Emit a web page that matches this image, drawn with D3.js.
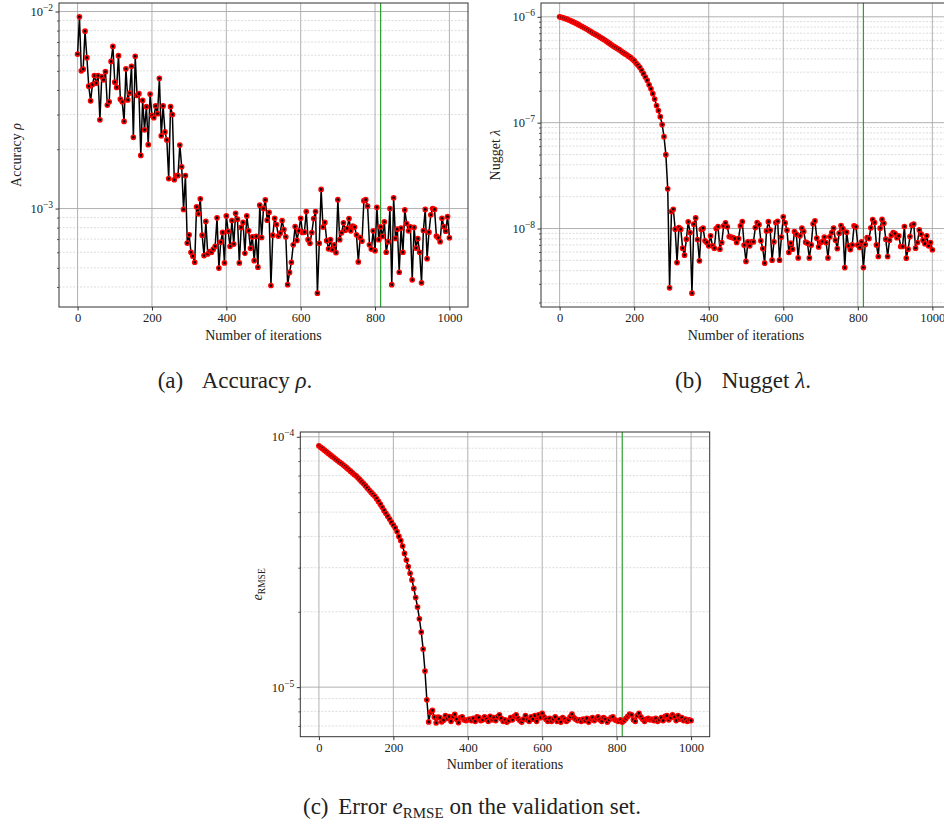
<!DOCTYPE html>
<html><head><meta charset="utf-8">
<script src="https://cdn.jsdelivr.net/npm/d3@7/dist/d3.min.js"></script>
<style>
body{margin:0;background:#fff}
svg{display:block}
text{font-family:"Liberation Serif","Times New Roman",serif;fill:#222}
</style>
</head><body>
<svg id="chart" width="944" height="828"></svg>
<script>
// ---------- data ----------
const iterations = d3.range(0, 1001, 5);
const xTicks = [0, 200, 400, 600, 800, 1000];
const selectedIteration = 815;

const accuracy = [
 6.08e-3, 9.4e-3, 5.0e-3, 5.1e-3, 7.95e-3, 5.83e-3, 4.18e-3, 3.52e-3, 4.26e-3, 4.73e-3,
 4.33e-3, 4.73e-3, 2.82e-3, 4.67e-3, 4.5e-3, 4.95e-3, 3.35e-3, 3.48e-3, 5.58e-3, 6.65e-3,
 4.38e-3, 4.12e-3, 5.97e-3, 3.59e-3, 3.48e-3, 2.77e-3, 5.12e-3, 3.56e-3, 3.86e-3, 5.27e-3,
 2.3e-3, 5.93e-3, 3.75e-3, 3.83e-3, 1.86e-3, 3.54e-3, 2.51e-3, 3.29e-3, 2.11e-3, 3.81e-3,
 2.97e-3, 2.89e-3, 3.32e-3, 3.03e-3, 4.58e-3, 2.34e-3, 3.32e-3, 2.45e-3, 2.23e-3, 1.42e-3,
 3.29e-3, 3.0e-3, 1.40e-3, 1.47e-3, 1.47e-3, 2.1e-3, 1.63e-3, 9.9e-4, 1.47e-3, 6.68e-4,
 7.36e-4, 6.0e-4, 5.73e-4, 5.34e-4, 1.02e-3, 9.4e-4, 1.12e-3, 7.33e-4, 5.77e-4, 8.6e-4,
 5.88e-4, 6.05e-4, 6.0e-4, 6.22e-4, 6.43e-4, 8.97e-4, 4.99e-4, 6.76e-4, 7.57e-4, 5.3e-4,
 9.18e-4, 7.67e-4, 6.43e-4, 8.7e-4, 6.6e-4, 9.46e-4, 8.83e-4, 5.3e-4, 8.02e-4, 8.5e-4,
 5.93e-4, 9.18e-4, 7.71e-4, 6.28e-4, 7.19e-4, 5.44e-4, 7.22e-4, 5.04e-4, 1.04e-3, 7.13e-4,
 1.0e-3, 1.106e-3, 8.73e-4, 9.58e-4, 4.07e-4, 7.33e-4, 8.93e-4, 8.3e-4, 7.25e-4, 7.5e-4,
 8.7e-4, 7.83e-4, 7.19e-4, 4.11e-4, 4.74e-4, 5.34e-4, 6.55e-4, 8.1e-4, 6.89e-4, 7.71e-4,
 8.93e-4, 7.56e-4, 7.59e-4, 9.66e-4, 6.95e-4, 6.66e-4, 7.56e-4, 8.9e-4, 9.66e-4, 3.72e-4,
 6.66e-4, 1.25e-3, 8.05e-4, 8.5e-4, 6.87e-4, 6.25e-4, 6.95e-4, 6.18e-4, 6.55e-4, 5.97e-4,
 1.11e-3, 6.95e-4, 7.53e-4, 8.46e-4, 7.77e-4, 7.93e-4, 8.9e-4, 7.71e-4, 8.14e-4, 8.05e-4,
 7.36e-4, 5.36e-4, 7.13e-4, 6.84e-4, 1.097e-3, 1.11e-3, 1.03e-3, 6.55e-4, 6.23e-4, 7.71e-4,
 6.11e-4, 1.015e-3, 6.95e-4, 8.08e-4, 7.22e-4, 8.57e-4, 6.0e-4, 6.79e-4, 1.0e-3, 4.11e-4,
 1.135e-3, 7.05e-4, 7.86e-4, 4.75e-4, 7.96e-4, 6.0e-4, 9.84e-4, 8.4e-4, 7.71e-4, 8.08e-4,
 4.35e-4, 8.02e-4, 6.3e-4, 7.03e-4, 6.0e-4, 4.2e-4, 7.74e-4, 9.9e-4, 5.57e-4, 7.59e-4,
 9.29e-4, 1.0e-3, 9.9e-4, 7.25e-4, 7.11e-4, 6.79e-4, 8.93e-4, 8.1e-4, 7.68e-4, 9.1e-4,
 7.11e-4
];

const nugget = [
 1.0e-6, 9.89e-7, 9.78e-7, 9.64e-7, 9.5e-7, 9.33e-7, 9.17e-7, 9.0e-7, 8.84e-7, 8.66e-7,
 8.47e-7, 8.28e-7, 8.1e-7, 7.93e-7, 7.76e-7, 7.57e-7, 7.38e-7, 7.2e-7, 7.01e-7, 6.86e-7,
 6.71e-7, 6.54e-7, 6.38e-7, 6.22e-7, 6.07e-7, 5.9e-7, 5.73e-7, 5.57e-7, 5.41e-7, 5.27e-7,
 5.14e-7, 5.01e-7, 4.89e-7, 4.75e-7, 4.61e-7, 4.49e-7, 4.38e-7, 4.25e-7, 4.13e-7, 3.99e-7,
 3.85e-7, 3.66e-7, 3.5e-7, 3.33e-7, 3.12e-7, 2.9e-7, 2.7e-7, 2.51e-7, 2.28e-7, 2.09e-7,
 1.88e-7, 1.67e-7, 1.45e-7, 1.3e-7, 1.14e-7, 9.6e-8, 7.38e-8, 4.99e-8, 2.37e-8, 2.75e-9,
 1.445e-8, 1.52e-8, 9.85e-9, 4.77e-9, 1.02e-8, 9.85e-9, 6.52e-9, 5.6e-9, 7.94e-9, 1.156e-8,
 9.17e-9, 2.45e-9, 1.1e-8, 1.26e-8, 7.87e-9, 4.95e-9, 9.8e-9, 1.007e-8, 7.65e-9, 7.38e-9,
 6.86e-9, 8.53e-9, 6.86e-9, 6.52e-9, 1.0e-8, 1.04e-8, 6.38e-9, 7.38e-9, 1.06e-8, 1.13e-8,
 1.037e-8, 8.4e-9, 8.3e-9, 8.2e-9, 8.04e-9, 7.38e-9, 8.04e-9, 1.06e-8, 1.16e-8, 6.97e-9,
 4.89e-9, 7.49e-9, 6.86e-9, 7.49e-9, 7.49e-9, 1.02e-8, 1.14e-8, 1.09e-8, 7.65e-9, 6.47e-9,
 4.71e-9, 9.5e-9, 1.16e-8, 9.64e-9, 5.02e-9, 7.49e-9, 1.14e-8, 1.17e-8, 5.02e-9, 8.3e-9,
 1.29e-8, 1.13e-8, 9.64e-9, 5.94e-9, 7.27e-9, 6.38e-9, 9.37e-9, 8.84e-9, 5.28e-9, 8.53e-9,
 1.007e-8, 9.37e-9, 7.43e-9, 7.27e-9, 5.28e-9, 7.0e-9, 1.11e-8, 1.18e-8, 8.1e-9, 6.7e-9,
 7.38e-9, 7.54e-9, 8.3e-9, 7.38e-9, 5.28e-9, 8.35e-9, 9.17e-9, 1.007e-8, 7.76e-9, 6.47e-9,
 9.04e-9, 1.067e-8, 1.0e-8, 4.28e-9, 9.24e-9, 6.86e-9, 6.33e-9, 7.0e-9, 1.06e-8, 1.037e-8,
 7.0e-9, 6.62e-9, 7.49e-9, 4.28e-9, 7.06e-9, 8.2e-9, 8.04e-9, 1.015e-8, 1.216e-8, 1.14e-8,
 7.0e-9, 5.44e-9, 1.007e-8, 1.22e-8, 1.12e-8, 7.94e-9, 5.44e-9, 7.76e-9, 8.65e-9, 9.17e-9,
 8.97e-9, 8.2e-9, 8.53e-9, 6.76e-9, 6.76e-9, 1.045e-8, 5.25e-9, 6.38e-9, 8.4e-9, 1.075e-8,
 1.1e-8, 6.52e-9, 7.38e-9, 9.7e-9, 8.84e-9, 7.76e-9, 7.2e-9, 8.53e-9, 6.86e-9, 7.38e-9,
 6.3e-9
];

const rmse = [
 9.2e-5, 9.08e-5, 8.96e-5, 8.84e-5, 8.72e-5, 8.6e-5, 8.48e-5, 8.37e-5, 8.26e-5, 8.15e-5,
 8.04e-5, 7.93e-5, 7.84e-5, 7.73e-5, 7.62e-5, 7.51e-5, 7.4e-5, 7.29e-5, 7.18e-5, 7.07e-5,
 6.98e-5, 6.86e-5, 6.74e-5, 6.62e-5, 6.5e-5, 6.38e-5, 6.25e-5, 6.13e-5, 6.01e-5, 5.9e-5,
 5.8e-5, 5.66e-5, 5.52e-5, 5.38e-5, 5.23e-5, 5.08e-5, 4.95e-5, 4.82e-5, 4.69e-5, 4.56e-5,
 4.44e-5, 4.33e-5, 4.18e-5, 4.0e-5, 3.85e-5, 3.66e-5, 3.42e-5, 3.22e-5, 3.03e-5, 2.85e-5,
 2.68e-5, 2.48e-5, 2.28e-5, 2.09e-5, 1.875e-5, 1.66e-5, 1.42e-5, 1.16e-5, 8.9e-6, 7.26e-6,
 7.94e-6, 8.07e-6, 7.59e-6, 7.2e-6, 7.59e-6, 7.55e-6, 7.27e-6, 7.38e-6, 7.7e-6, 7.5e-6,
 7.63e-6, 7.3e-6, 7.63e-6, 7.79e-6, 7.45e-6, 7.22e-6, 7.55e-6, 7.6e-6, 7.4e-6, 7.35e-6,
 7.4e-6, 7.45e-6, 7.35e-6, 7.5e-6, 7.3e-6, 7.6e-6, 7.55e-6, 7.35e-6, 7.4e-6, 7.6e-6,
 7.45e-6, 7.3e-6, 7.65e-6, 7.4e-6, 7.55e-6, 7.35e-6, 7.6e-6, 7.75e-6, 7.5e-6, 7.3e-6,
 7.4e-6, 7.25e-6, 7.35e-6, 7.55e-6, 7.4e-6, 7.65e-6, 7.75e-6, 7.5e-6, 7.35e-6, 7.25e-6,
 7.45e-6, 7.7e-6, 7.4e-6, 7.3e-6, 7.6e-6, 7.45e-6, 7.7e-6, 7.3e-6, 7.75e-6, 7.55e-6,
 7.85e-6, 7.6e-6, 7.45e-6, 7.3e-6, 7.5e-6, 7.3e-6, 7.45e-6, 7.6e-6, 7.3e-6, 7.45e-6,
 7.25e-6, 7.55e-6, 7.45e-6, 7.3e-6, 7.4e-6, 7.6e-6, 7.8e-6, 7.55e-6, 7.45e-6, 7.35e-6,
 7.4e-6, 7.3e-6, 7.45e-6, 7.35e-6, 7.5e-6, 7.25e-6, 7.45e-6, 7.55e-6, 7.35e-6, 7.5e-6,
 7.6e-6, 7.4e-6, 7.3e-6, 7.55e-6, 7.45e-6, 7.25e-6, 7.4e-6, 7.55e-6, 7.6e-6, 7.4e-6,
 7.35e-6, 7.3e-6, 7.4e-6, 7.25e-6, 7.35e-6, 7.5e-6, 7.65e-6, 7.8e-6, 7.75e-6, 7.4e-6,
 7.3e-6, 7.7e-6, 7.85e-6, 7.6e-6, 7.45e-6, 7.3e-6, 7.45e-6, 7.5e-6, 7.4e-6, 7.45e-6,
 7.35e-6, 7.5e-6, 7.3e-6, 7.4e-6, 7.55e-6, 7.35e-6, 7.65e-6, 7.7e-6, 7.4e-6, 7.55e-6,
 7.75e-6, 7.6e-6, 7.35e-6, 7.7e-6, 7.45e-6, 7.55e-6, 7.35e-6, 7.45e-6, 7.3e-6, 7.4e-6,
 7.35e-6
];

const xLabel = "Number of iterations";

// ---------- drawing ----------
const svg = d3.select('#chart');
const W = 944, H = 828;

const panels = [
  {key:'a', values: accuracy, left:59, right:468, top:3, bottom:307,
   ylabel: (t)=>{ t.append('tspan').text('Accuracy '); t.append('tspan').attr('font-style','italic').text('ρ'); },
   ylabX: 20.5},
  {key:'b', values: nugget, left:541, right:951, top:3, bottom:307,
   ylabel: (t)=>{ t.append('tspan').text('Nugget '); t.append('tspan').attr('font-style','italic').text('λ'); },
   ylabX: 500},
  {key:'c', values: rmse, left:300.3, right:709.7, top:432, bottom:736.7,
   ylabel: (t)=>{ t.append('tspan').attr('font-style','italic').text('e');
                  t.append('tspan').attr('font-size','9.5px').attr('dy','3').text('RMSE'); },
   ylabX: 262}
];

const defs = svg.append('defs');

panels.forEach(p => {
  const g = svg.append('g');
  const x = d3.scaleLinear().domain([-50, 1050]).range([p.left, p.right]);
  const lmin = Math.log10(d3.min(p.values)), lmax = Math.log10(d3.max(p.values));
  const m = (lmax - lmin) * 0.05;
  const y = d3.scaleLog().domain([Math.pow(10, lmin - m), Math.pow(10, lmax + m)])
              .range([p.bottom, p.top]);
  const [d0, d1] = y.domain();
  const majors = [], minors = [];
  for (let e = Math.floor(Math.log10(d0)); e <= Math.ceil(Math.log10(d1)); e++) {
    const v = Math.pow(10, e);
    if (v >= d0 && v <= d1) majors.push(v);
    for (let k = 2; k <= 9; k++) {
      const mv = k * v;
      if (mv >= d0 && mv <= d1) minors.push(mv);
    }
  }

  defs.append('clipPath').attr('id', 'clip-' + p.key)
    .append('rect').attr('x', p.left).attr('y', p.top)
    .attr('width', p.right - p.left).attr('height', p.bottom - p.top);

  const grid = g.append('g');
  grid.selectAll('.ming').data(minors).join('line')
    .attr('x1', p.left).attr('x2', p.right)
    .attr('y1', d => y(d)).attr('y2', d => y(d))
    .attr('stroke', '#d4d4d4').attr('stroke-width', 0.8).attr('stroke-dasharray', '2,1.5');
  grid.selectAll('.majg').data(majors).join('line')
    .attr('x1', p.left).attr('x2', p.right)
    .attr('y1', d => y(d)).attr('y2', d => y(d))
    .attr('stroke', '#a8a8a8').attr('stroke-width', 0.9);
  grid.selectAll('.xg').data(xTicks).join('line')
    .attr('x1', d => x(d)).attr('x2', d => x(d))
    .attr('y1', p.top).attr('y2', p.bottom)
    .attr('stroke', '#a8a8a8').attr('stroke-width', 0.9);

  g.append('line')
    .attr('x1', x(selectedIteration)).attr('x2', x(selectedIteration))
    .attr('y1', p.top).attr('y2', p.bottom)
    .attr('stroke', '#2ca02c').attr('stroke-width', 1.2);

  const data = iterations.map((it, i) => ({it, v: p.values[i]})).filter(d => d.v !== undefined);
  const plot = g.append('g').attr('clip-path', 'url(#clip-' + p.key + ')');
  plot.append('path').datum(data)
    .attr('d', d3.line().x(d => x(d.it)).y(d => y(d.v)))
    .attr('fill', 'none').attr('stroke', '#000').attr('stroke-width', 1.5)
    .attr('stroke-linejoin', 'round');
  plot.selectAll('circle').data(data).join('circle')
    .attr('cx', d => x(d.it)).attr('cy', d => y(d.v)).attr('r', 2.1)
    .attr('fill', '#000').attr('stroke', '#ff0000').attr('stroke-width', 1.5);

  g.append('rect').attr('x', p.left).attr('y', p.top)
    .attr('width', p.right - p.left).attr('height', p.bottom - p.top)
    .attr('fill', 'none').attr('stroke', '#333').attr('stroke-width', 1);

  const xa = g.append('g').attr('transform', `translate(0,${p.bottom})`)
    .call(d3.axisBottom(x).tickValues(xTicks).tickFormat(d3.format('d')).tickSize(3.5).tickSizeOuter(0).tickPadding(3));
  xa.select('.domain').remove();
  xa.selectAll('line').attr('stroke', '#333');
  xa.selectAll('text').attr('font-size', '12.5px').attr('font-family', '"Liberation Serif",serif').attr('fill', '#222');

  const ya = g.append('g').attr('transform', `translate(${p.left},0)`)
    .call(d3.axisLeft(y).tickValues(majors).tickFormat('').tickSize(3.5).tickSizeOuter(0));
  ya.select('.domain').remove();
  ya.selectAll('line').attr('stroke', '#333');
  const yam = g.append('g').attr('transform', `translate(${p.left},0)`)
    .call(d3.axisLeft(y).tickValues(minors).tickFormat('').tickSize(2).tickSizeOuter(0));
  yam.select('.domain').remove();
  yam.selectAll('line').attr('stroke', '#333').attr('stroke-width', 0.8);

  majors.forEach(v => {
    const e = Math.round(Math.log10(v));
    const t = g.append('text').attr('x', p.left - 6).attr('y', y(v) + 4.5)
      .attr('text-anchor', 'end').attr('font-size', '12.5px');
    t.append('tspan').text('10');
    t.append('tspan').attr('font-size', '9.5px').attr('dy', '-5').text('−' + Math.abs(e));
  });

  g.append('text').attr('x', (p.left + p.right) / 2).attr('y', p.bottom + 32.5)
    .attr('text-anchor', 'middle').attr('font-size', '14px').text(xLabel);
  const yl = g.append('text')
    .attr('transform', `translate(${p.ylabX},${(p.top + p.bottom) / 2}) rotate(-90)`)
    .attr('text-anchor', 'middle').attr('font-size', '14px');
  p.ylabel(yl);
});

// captions
const capA = svg.append('text').attr('x', 235).attr('y', 388).attr('text-anchor', 'middle').attr('font-size', '23px');
capA.append('tspan').text('(a)');
capA.append('tspan').attr('dx', 14).text(' Accuracy ');
capA.append('tspan').attr('font-style', 'italic').text('ρ');
capA.append('tspan').text('.');

const capB = svg.append('text').attr('x', 743).attr('y', 388).attr('text-anchor', 'middle').attr('font-size', '23px');
capB.append('tspan').text('(b)');
capB.append('tspan').attr('dx', 14).text(' Nugget ');
capB.append('tspan').attr('font-style', 'italic').text('λ');
capB.append('tspan').text('.');

const capC = svg.append('text').attr('x', 472).attr('y', 814).attr('text-anchor', 'middle').attr('font-size', '23px');
capC.append('tspan').text('(c)');
capC.append('tspan').attr('dx', 4).text(' Error ');
capC.append('tspan').attr('font-style', 'italic').text('e');
capC.append('tspan').attr('font-size', '15px').attr('dy', '4').text('RMSE');
capC.append('tspan').attr('dy', '-4').text(' on the validation set.');
</script>
</body></html>
